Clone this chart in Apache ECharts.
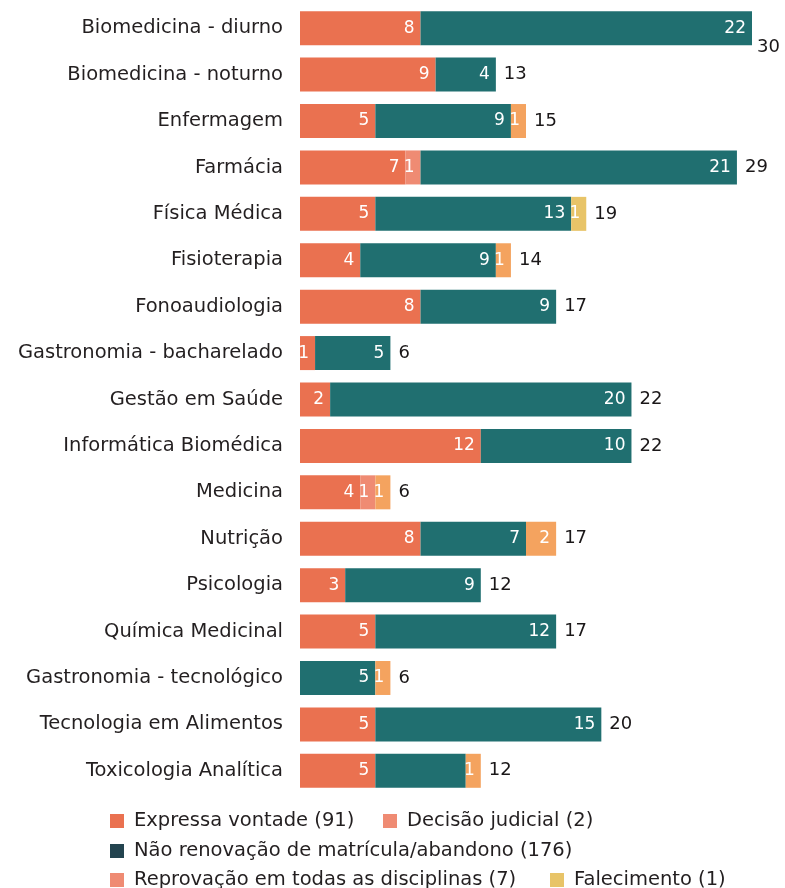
<!DOCTYPE html>
<html><head><meta charset="utf-8">
<script src="https://cdn.jsdelivr.net/npm/echarts@6/dist/echarts.min.js"></script>
<style>html,body{margin:0;padding:0;background:#fff}#c{width:785px;height:888px}</style>
</head><body><div id="c"></div>
<script>
const categories = ["Biomedicina - diurno","Biomedicina - noturno","Enfermagem","Farmácia","Física Médica","Fisioterapia","Fonoaudiologia","Gastronomia - bacharelado","Gestão em Saúde","Informática Biomédica","Medicina","Nutrição","Psicologia","Química Medicinal","Gastronomia - tecnológico","Tecnologia em Alimentos","Toxicologia Analítica"];
const expressaVontade = [8,9,5,7,5,4,8,1,2,12,4,8,3,5,0,5,5];
const decisaoJudicial = [0,0,0,1,0,0,0,0,0,0,1,0,0,0,0,0,0];
const naoRenovacao   = [22,4,9,21,13,9,9,5,20,10,0,7,9,12,5,15,6];
const reprovacao     = [0,0,1,0,0,1,0,0,0,0,1,2,0,0,1,0,1];
const falecimento    = [0,0,0,0,1,0,0,0,0,0,0,0,0,0,0,0,0];
const seriesNames = ["Expressa vontade (91)","Decisão judicial (2)","Não renovação de matrícula/abandono (176)","Reprovação em todas as disciplinas (7)","Falecimento (1)"];
const hiddenLabels = {2: [16]}; // series index -> category indices with no visible label

const font = "'DejaVu Sans', sans-serif";
const barColors = ['#EA7150','#EF8B73','#206F70','#F4A35F','#E8C468'];
const legendColors = ['#EA7150','#EF8B73','#23444F','#EF8B73','#E8C468'];
const allData = [expressaVontade, decisaoJudicial, naoRenovacao, reprovacao, falecimento];
const totals = categories.map((c,i)=>allData.reduce((s,a)=>s+a[i],0));

const series = allData.map((arr, si) => ({
  name: seriesNames[si], type: 'bar', stack: 'all', barWidth: 34,
  itemStyle: {color: barColors[si]},
  label: {show: true, position: 'insideRight', distance: 6, color: '#fff', fontFamily: font, fontSize: 17,
    formatter: p => p.value ? String(p.value) : ''},
  data: arr.map((v, i) => (hiddenLabels[si] && hiddenLabels[si].includes(i)) ? {value: v, label: {show: false}} : v)
}));
series.push({
  name: 'total', type: 'scatter', symbolSize: 0, silent: true,
  itemStyle: {opacity: 1, color: 'rgba(0,0,0,0)'},
  label: {show: true, position: 'right', distance: 8, color: '#1A1718', opacity: 1, fontFamily: font, fontSize: 18,
    formatter: p => String(p.value[0])},
  data: totals.map((t, i) => i === 0 ? {value: [t, categories[i]], label: {offset: [-3, 19]}} : [t, categories[i]])
});

const legendPos = [[110, 811], [383, 811], [110, 841], [110, 870], [550, 870]];
const legends = seriesNames.map((n, i) => ({
  data: [{name: n, itemStyle: {color: legendColors[i]}}],
  left: legendPos[i][0], top: legendPos[i][1], orient: 'horizontal',
  icon: 'rect', itemWidth: 14, itemHeight: 14, itemGap: 0, padding: 0,
  textStyle: {fontFamily: font, fontSize: 19.5, color: '#231F20', padding: [0,0,0,5]},
  selectedMode: false
}));

const chart = echarts.init(document.getElementById('c'), null, {renderer: 'canvas'});
chart.setOption({
  animation: false,
  grid: {left: 300, right: 33, top: 5, bottom: 94, containLabel: false},
  xAxis: {type: 'value', min: 0, max: 30, show: false},
  yAxis: {type: 'category', data: categories, inverse: true,
    axisLine: {show: false}, axisTick: {show: false}, splitLine: {show: false},
    axisLabel: {color: '#231F20', fontFamily: font, fontSize: 19.5, margin: 17}},
  legend: legends,
  series: series
});
</script></body></html>
